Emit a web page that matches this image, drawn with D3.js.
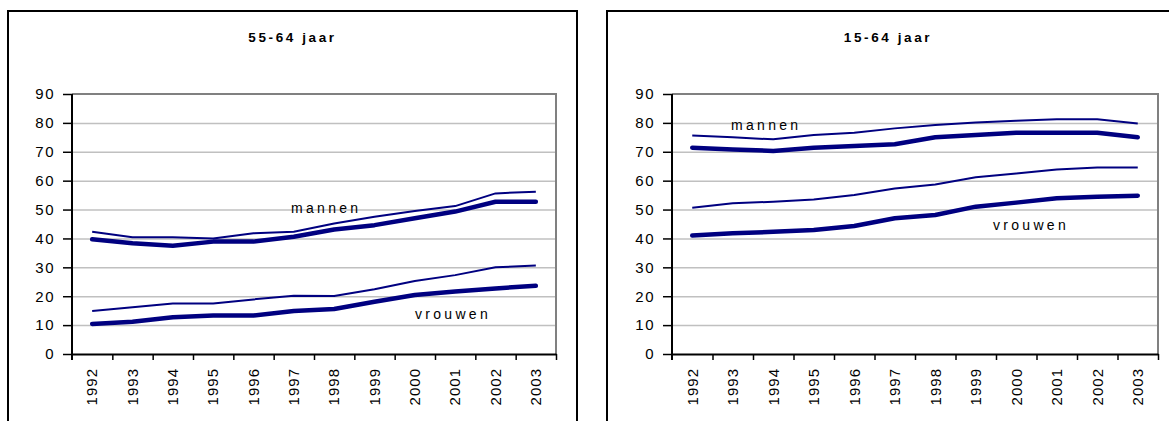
<!DOCTYPE html>
<html>
<head>
<meta charset="utf-8">
<script src="https://cdn.jsdelivr.net/npm/d3@7/dist/d3.min.js"></script>
<style>
body{margin:0;background:#fff;}
svg text{font-family:"Liberation Sans",Arial,sans-serif;fill:#000;}
</style>
</head>
<body>
<svg id="svg" width="1169" height="421"></svg>
<script>

var years=["1992","1993","1994","1995","1996","1997","1998","1999","2000","2001","2002","2003"];
var yTicks=[0,10,20,30,40,50,60,70,80,90];
var titles=["55-64 jaar","15-64 jaar"];
var labels=["mannen","vrouwen"];

// 55-64 jaar
var mannenDun5564=[42.3,40.4,40.4,40.0,41.8,42.3,45.2,47.5,49.5,51.2,55.6,56.2];
var mannenDik5564=[39.7,38.3,37.5,38.9,38.9,40.6,43.1,44.6,47.0,49.3,52.7,52.7];
var vrouwenDun5564=[14.9,16.2,17.5,17.5,18.9,20.2,20.1,22.4,25.3,27.3,30.0,30.6];
var vrouwenDik5564=[10.4,11.2,12.7,13.3,13.3,14.9,15.6,18.1,20.4,21.6,22.7,23.6];

// 15-64 jaar
var mannenDun1564=[75.6,75.0,74.3,75.8,76.6,78.1,79.3,80.1,80.7,81.3,81.3,79.8];
var mannenDik1564=[71.4,70.8,70.3,71.4,72.0,72.6,75.0,75.8,76.6,76.6,76.6,75.0];
var vrouwenDun1564=[50.6,52.2,52.7,53.5,55.0,57.3,58.7,61.2,62.5,63.9,64.6,64.6];
var vrouwenDik1564=[41.0,41.8,42.3,42.9,44.3,47.0,48.1,51.0,52.4,53.9,54.4,54.8];

var svg=d3.select("#svg");

var navy="#000080";

var panels=[
 {title:titles[0], frameX:8, frameW:569, plotX:72, plotW:484,
  thin:[mannenDun5564,vrouwenDun5564], thick:[mannenDik5564,vrouwenDik5564],
  lab:[{t:labels[0],x:219,y:119},{t:labels[1],x:343,y:225}]},
 {title:titles[1], frameX:607, frameW:572, plotX:672, plotW:486,
  thin:[mannenDun1564,vrouwenDun1564], thick:[mannenDik1564,vrouwenDik1564],
  lab:[{t:labels[0],x:59,y:36},{t:labels[1],x:321,y:136}]}
];

var plotTop=94, plotH=260;

panels.forEach(function(p){

  // outer frame
  svg.append("rect")
     .attr("x",p.frameX).attr("y",11)
     .attr("width",p.frameW).attr("height",430)
     .attr("fill","none").attr("stroke","#000").attr("stroke-width",2);

  svg.append("text")
     .attr("x",p.frameX+p.frameW/2-(p.frameX>300?5:0))
     .attr("y",42)
     .attr("text-anchor","middle")
     .style("font-size","13.5px").style("font-weight","bold")
     .style("letter-spacing","2.6px")
     .text(p.title);

  var g=svg.append("g").attr("transform","translate("+p.plotX+","+plotTop+")");

  var yScale=d3.scaleLinear().domain([0,90]).range([plotH,0]);
  var xScale=d3.scaleBand().domain(years).range([0,p.plotW]);
  var xEdge=d3.scaleLinear().domain([0,years.length]).range([0,p.plotW]);

  // grid
  g.append("g")
   .attr("class","grid")
   .call(d3.axisLeft(yScale).tickValues(yTicks.slice(1,-1)).tickSize(-p.plotW).tickFormat(""))
   .call(function(s){
     s.select(".domain").remove();
     s.selectAll("line").attr("stroke","#c0c0c0").attr("stroke-width",1.5);
   });

  // plot border top/right
  g.append("path")
   .attr("d","M0,0H"+p.plotW+"V"+plotH)
   .attr("fill","none").attr("stroke","#808080").attr("stroke-width",2);

  // lines
  var line=d3.line()
     .x(function(d,i){return xScale(years[i])+xScale.bandwidth()/2;})
     .y(function(d){return yScale(d);});

  p.thin.forEach(function(s){
    g.append("path").datum(s).attr("d",line)
     .attr("fill","none").attr("stroke",navy).attr("stroke-width",2)
     .attr("stroke-linejoin","round");
  });
  p.thick.forEach(function(s){
    g.append("path").datum(s).attr("d",line)
     .attr("fill","none").attr("stroke",navy).attr("stroke-width",4.5)
     .attr("stroke-linejoin","round").attr("stroke-linecap","round");
  });

  // y axis
  var yAxis=g.append("g")
     .call(d3.axisLeft(yScale).tickValues(yTicks).tickSize(9).tickSizeOuter(0).tickPadding(8));
  yAxis.select(".domain").attr("stroke","#000").attr("stroke-width",2).attr("d","M0,0V"+(plotH+6));
  yAxis.selectAll(".tick line").attr("stroke","#000").attr("stroke-width",1.5);
  yAxis.selectAll("text").style("font-size","15px").style("letter-spacing","1.5px");

  // x axis ticks at category edges
  var xTickAxis=g.append("g")
     .attr("transform","translate(0,"+plotH+")")
     .call(d3.axisBottom(xEdge).tickValues(d3.range(1,years.length+1)).tickSize(6).tickSizeOuter(0).tickFormat(""));
  xTickAxis.select(".domain").attr("stroke","#000").attr("stroke-width",2);
  xTickAxis.selectAll(".tick line").attr("stroke","#000").attr("stroke-width",1.5);

  // x labels
  var xLab=g.append("g")
     .attr("transform","translate(0,"+plotH+")")
     .call(d3.axisBottom(xScale).tickSize(0));
  xLab.select(".domain").remove();
  xLab.selectAll("text")
     .attr("transform","rotate(-90)")
     .attr("x",-14).attr("y",0).attr("dy","0.35em")
     .style("text-anchor","end")
     .style("font-size","15px").style("letter-spacing","1px");

  // series labels
  p.lab.forEach(function(l){
    g.append("text").attr("x",l.x).attr("y",l.y)
     .style("font-size","14px").style("letter-spacing","3.3px")
     .text(l.t);
  });
});

</script>
</body>
</html>
